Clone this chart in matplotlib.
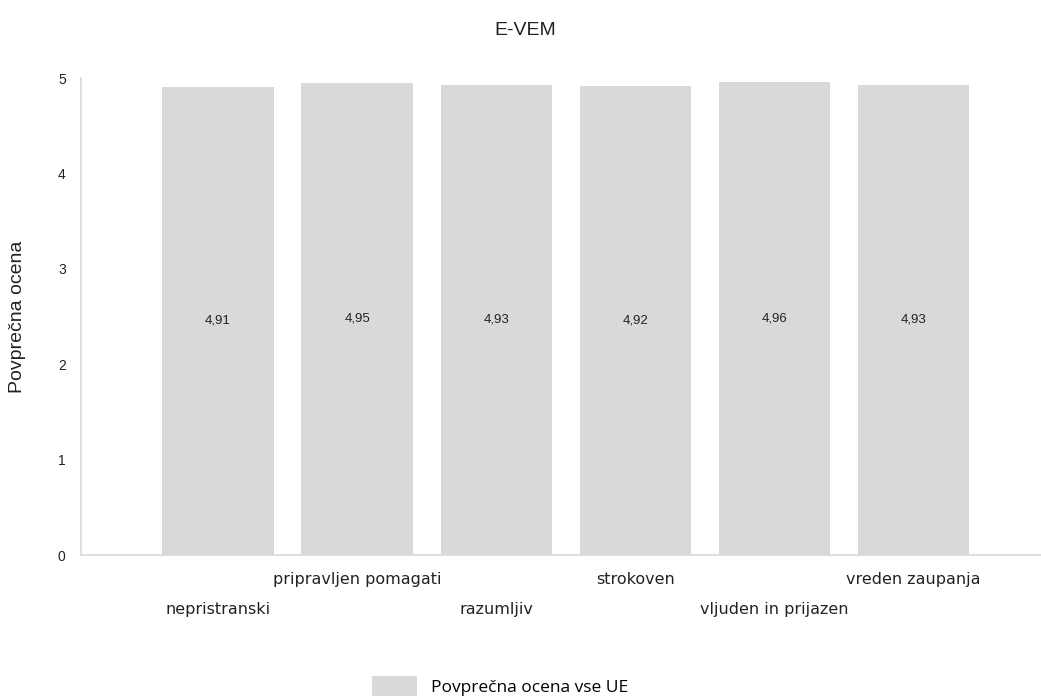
import matplotlib.pyplot as plt
from matplotlib.patches import Patch

# Data
categories = ['nepristranski', 'pripravljen pomagati', 'razumljiv',
              'strokoven', 'vljuden in prijazen', 'vreden zaupanja']
values = [4.91, 4.95, 4.93, 4.92, 4.96, 4.93]
series_name = 'Povprečna ocena vse UE'

bar_color = '#d9d9d9'

fig = plt.figure(figsize=(10.41, 7), dpi=100)
ax = fig.add_axes([0.0778, 0.207, 0.9222, 0.6814])

x = range(len(categories))
bars = ax.bar(x, values, width=0.8, color=bar_color)

# value labels in the middle of each bar
for b, v in zip(bars, values):
    ax.text(b.get_x() + b.get_width() / 2, v / 2,
            f'{v:.2f}'.replace('.', ','), ha='center', va='center',
            fontsize=9.5, family='Liberation Sans', color='#222222')

ax.set_xlim(-0.985, 5.917)
ax.set_ylim(0, 5)
ax.set_yticks(range(6))
ax.set_xticks(list(x))
ax.set_xticklabels(categories, fontsize=11.5, family='DejaVu Sans',
                   color='#222222')

# staggered x labels: first, third, fifth lower
for i, tick in enumerate(ax.xaxis.get_major_ticks()):
    tick.set_pad(34 if i % 2 == 0 else 12)

ax.tick_params(axis='both', length=0)
ax.tick_params(axis='y', pad=11)
for lab in ax.get_yticklabels():
    lab.set_family('Liberation Sans')
    lab.set_fontsize(10)
    lab.set_color('#222222')

for s in ['top', 'right']:
    ax.spines[s].set_visible(False)
for s in ['left', 'bottom']:
    ax.spines[s].set_color('#d9d9d9')
    ax.spines[s].set_linewidth(1.2)

ax.set_ylabel('Povprečna ocena', fontsize=14, family='Liberation Sans',
              color='#222222')
ax.yaxis.set_label_coords(-0.057, 0.5)

fig.text(0.505, 0.957, 'E-VEM', ha='center', va='center', fontsize=14,
         family='Liberation Sans', color='#222222')

handle = Patch(facecolor=bar_color, edgecolor='none')
fig.legend([handle], [series_name], loc='center',
           bbox_to_anchor=(0.48, 0.02), frameon=False,
           prop={'family': 'Open Sans', 'size': 12.5},
           handlelength=2.6, handleheight=1.4, handletextpad=0.8)

fig.savefig('out.png', dpi=100)
